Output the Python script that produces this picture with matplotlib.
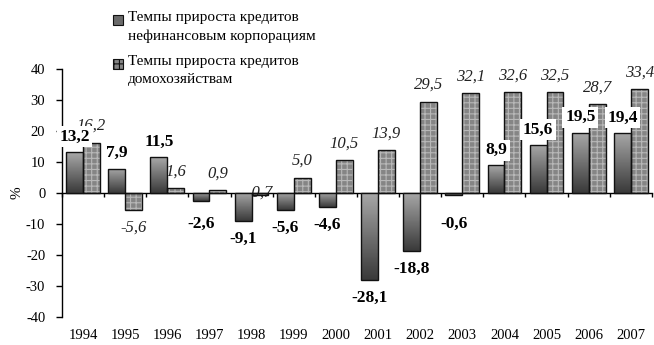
import numpy as np
import matplotlib
matplotlib.use("Agg")
import matplotlib.pyplot as plt
from matplotlib.patches import Rectangle
from matplotlib.colors import LinearSegmentedColormap

plt.rcParams['font.family'] = ['Liberation Serif', 'DejaVu Serif']
plt.rcParams['hatch.linewidth'] = 0.8

years = ['1994', '1995', '1996', '1997', '1998', '1999', '2000',
         '2001', '2002', '2003', '2004', '2005', '2006', '2007']
corporations = [13.2, 7.9, 11.5, -2.6, -9.1, -5.6, -4.6,
                -28.1, -18.8, -0.6, 8.9, 15.6, 19.5, 19.4]
households = [16.2, -5.6, 1.6, 0.9, -0.7, 5.0, 10.5,
              13.9, 29.5, 32.1, 32.6, 32.5, 28.7, 33.4]
series_names = ['Темпы прироста кредитов\nнефинансовым корпорациям',
                'Темпы прироста кредитов\nдомохозяйствам']
yticks = [-40, -30, -20, -10, 0, 10, 20, 30, 40]


def fmt(v):
    return f"{v:.1f}".replace('.', ',')


fig = plt.figure(figsize=(6.54, 3.45), dpi=100)
ax = fig.add_axes([0.0948, 0.081, 0.902, 0.719])

x = np.arange(len(years))
w = 0.4
grad_cmap = LinearSegmentedColormap.from_list('g', ['#a8a8a8', '#3a3a3a'])

# corporate loans: grey gradient bars
corp_bars = ax.bar(x - w / 2, corporations, width=w, color='none',
                   edgecolor='#111111', linewidth=1.0, zorder=3)
grad = np.linspace(0, 1, 64).reshape(-1, 1)
for b in corp_bars:
    x0, y0 = b.get_x(), b.get_y()
    bw, bh = b.get_width(), b.get_height()
    lo, hi = min(y0, y0 + bh), max(y0, y0 + bh)
    im = ax.imshow(grad, cmap=grad_cmap, aspect='auto',
                   extent=(x0, x0 + bw, lo, hi), origin='upper', zorder=2.6)
    im.set_clip_path(b)

# household loans: hatched grey bars
ax.bar(x + w / 2, households, width=w, color='#858585',
       edgecolor='#b8b8b8', hatch='+++', linewidth=0, zorder=2)
ax.bar(x + w / 2, households, width=w, color='none',
       edgecolor='#111111', linewidth=1.0, zorder=3)

ax.set_xlim(-0.5, len(years) - 0.5)
ax.set_ylim(-40, 40)
ax.set_yticks(yticks)
ax.set_yticklabels([str(t) for t in yticks], fontsize=10.5)
ax.set_ylabel('%', fontsize=11)
ax.yaxis.set_label_coords(-0.066, 0.5)

ax.spines['top'].set_visible(False)
ax.spines['right'].set_visible(False)
ax.spines['bottom'].set_position(('data', 0))
ax.spines['left'].set_bounds(-40, 40)
ax.spines['bottom'].set_linewidth(1.0)
ax.spines['left'].set_linewidth(1.0)
ax.set_xticks(np.arange(len(years) + 1) - 0.5)
ax.set_xticklabels([])
ax.tick_params(axis='x', direction='out', length=3, width=1)
ax.tick_params(axis='y', direction='out', length=4, width=1, pad=8)

for i, yr in enumerate(years):
    ax.annotate(yr, xy=(i, 0), xycoords=('data', 'axes fraction'),
                xytext=(0, -13), textcoords='offset points',
                ha='center', va='center', fontsize=10.5)

# value labels
for i, v in enumerate(households):
    if v >= 0:
        anchor, dy = v, 12
    elif v > -1:
        anchor, dy = 0, 0
    else:
        anchor, dy = v, -12.5
    ax.annotate(fmt(v), xy=(x[i] + w / 2, anchor), xytext=(0, dy),
                textcoords='offset points', ha='center', va='center',
                fontsize=12, style='italic', color='#222222', zorder=2.5)

for i, v in enumerate(corporations):
    if v >= 0:
        anchor, dy = v, 11
    else:
        anchor, dy = min(v, -4.5), -12.5
    ax.annotate(fmt(v), xy=(x[i] - w / 2, anchor), xytext=(0, dy),
                textcoords='offset points', ha='center', va='center',
                fontsize=12.5, fontweight='bold', zorder=5,
                bbox=dict(boxstyle='square,pad=0.15', fc='white', ec='none'))

# legend: swatch aligned with the first line of each two-line entry
leg_x, sw = 113 / 654, 10 / 654
entries = [(20 / 345, dict(facecolor='#6a6a6a', edgecolor='#111111')),
           (64 / 345, dict(facecolor='#858585', edgecolor='#111111',
                           hatch='+++'))]
for (top, style), name in zip(entries, series_names):
    yc = 1 - top
    fig.add_artist(Rectangle((leg_x, yc - 5 / 345), sw, 10 / 345,
                             transform=fig.transFigure, linewidth=0.8,
                             **style))
    fig.text(leg_x + 15 / 654, yc + 9 / 345, name, ha='left', va='top',
             fontsize=11, linespacing=1.5)

fig.savefig('out.png', dpi=100)
